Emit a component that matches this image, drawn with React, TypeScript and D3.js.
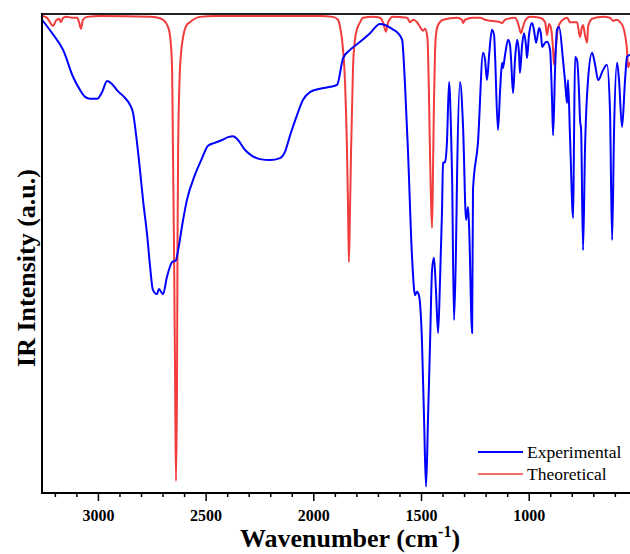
import { useEffect, useRef } from "react";
import * as d3 from "d3";

// experimental spectrum: wavenumber (cm-1), intensity (a.u.)
const expWavenumber = [
  3262, 3215, 3164, 3118, 3085, 3062, 3039, 3006, 2983, 2960, 2937, 2914, 2881, 2853, 2839, 2825, 2807, 2793, 2774, 2760,
  2747, 2728, 2719, 2709, 2700, 2682, 2658, 2640, 2630, 2607, 2589, 2552, 2519, 2491, 2459, 2426, 2398, 2375, 2352, 2319,
  2287, 2250, 2203, 2157, 2134, 2110, 2078, 2050, 2018, 1971, 1925, 1892, 1864, 1832, 1785, 1739, 1693, 1669, 1637, 1609,
  1590, 1577, 1563, 1544, 1530, 1521, 1512, 1498, 1488, 1479, 1470, 1460, 1451, 1442, 1433, 1423, 1414, 1405, 1400, 1391,
  1382, 1372, 1363, 1358, 1349, 1340, 1335, 1321, 1307, 1293, 1284, 1279, 1265, 1261, 1238, 1214, 1205, 1196, 1186, 1173,
  1163, 1159, 1145, 1135, 1126, 1122, 1112, 1098, 1089, 1084, 1075, 1066, 1056, 1047, 1043, 1033, 1024, 1015, 1010, 1001,
  987, 978, 968, 954, 945, 940, 926, 917, 903, 894, 889, 880, 871, 861, 843, 834, 824, 820, 810, 796,
  792, 787, 778, 769, 764, 759, 750, 741, 727, 708, 694, 680, 657, 639, 625, 615, 606, 592, 583, 569,
  555, 546, 532
];
const expIntensity = [
  98.8, 96.0, 92.5, 86.9, 84.1, 82.7, 82.3, 82.3, 83.7, 86.0, 85.4, 84.1, 82.7, 81.0, 79.3, 74.7, 67.4, 61.2, 53.9, 47.2,
  42.4, 41.5, 42.6, 42.0, 41.5, 45.1, 48.2, 48.6, 50.7, 57.0, 61.2, 66.4, 69.9, 72.5, 73.1, 73.7, 74.3, 74.5, 73.7, 71.6,
  70.4, 69.7, 69.5, 69.9, 71.2, 74.7, 78.9, 82.1, 83.7, 84.4, 84.8, 85.2, 90.8, 92.5, 94.2, 96.0, 97.9, 97.7, 96.9, 96.0,
  94.6, 85.6, 71.6, 49.3, 41.3, 42.0, 41.3, 31.9, 15.2, 1.3, 15.2, 31.9, 46.6, 49.1, 42.4, 33.4, 44.5, 58.5, 68.9, 69.1,
  73.1, 85.8, 75.8, 66.0, 36.1, 50.7, 66.0, 85.8, 76.4, 57.0, 59.7, 55.5, 33.4, 63.3, 73.1, 91.9, 90.4, 86.2, 91.5, 96.7,
  95.6, 91.9, 75.8, 84.1, 89.8, 88.7, 91.5, 94.6, 93.5, 90.4, 83.5, 90.4, 94.6, 91.5, 87.7, 93.5, 96.0, 93.5, 90.8, 95.6,
  98.1, 96.7, 94.0, 97.1, 95.6, 93.1, 94.0, 94.2, 92.5, 82.1, 74.7, 88.3, 96.7, 97.3, 90.4, 86.2, 81.4, 86.2, 73.7, 57.4,
  73.7, 91.0, 90.4, 84.1, 77.9, 75.8, 50.7, 71.6, 86.2, 91.9, 89.4, 86.2, 88.3, 89.4, 80.0, 52.8, 75.8, 89.8, 86.2, 76.4,
  86.2, 91.0, 91.5
];

// theoretical (DFT) spectrum
const theoWavenumber = [
  3257, 3239, 3225, 3211, 3197, 3183, 3174, 3164, 3146, 3118, 3099, 3090, 3081, 3072, 3053, 2993, 2760, 2723, 2700, 2677,
  2668, 2658, 2654, 2649, 2644, 2640, 2635, 2633, 2630, 2621, 2607, 2593, 2575, 2528, 2459, 1971, 1911, 1888, 1878, 1869,
  1855, 1846, 1841, 1837, 1832, 1827, 1818, 1809, 1799, 1785, 1772, 1725, 1693, 1679, 1665, 1655, 1632, 1567, 1553, 1539,
  1521, 1507, 1493, 1484, 1474, 1470, 1465, 1460, 1456, 1451, 1446, 1442, 1437, 1433, 1423, 1400, 1335, 1312, 1307, 1298,
  1261, 1228, 1205, 1135, 1126, 1112, 1066, 1052, 1038, 1029, 1019, 996, 950, 926, 917, 908, 899, 889, 885, 875,
  866, 848, 824, 810, 778, 764, 755, 750, 741, 731, 727, 708, 657, 625, 611, 592, 578, 564, 546, 541,
  532
];
const theoIntensity = [
  99.6, 99.2, 98.3, 97.5, 98.6, 99.0, 98.3, 99.2, 99.4, 99.2, 99.2, 98.3, 96.9, 98.8, 99.4, 99.6, 99.4, 99.2, 98.8, 97.3,
  95.6, 88.9, 71.6, 50.7, 23.6, 2.5, 23.6, 50.7, 71.6, 88.9, 95.2, 97.5, 98.3, 99.4, 99.6, 99.6, 99.4, 98.8, 97.3, 94.6,
  85.6, 71.6, 59.1, 48.2, 59.1, 71.6, 88.9, 94.6, 96.9, 98.3, 99.2, 99.4, 99.2, 98.3, 96.3, 98.3, 99.4, 99.2, 98.3, 98.8,
  98.3, 97.3, 96.5, 96.9, 95.6, 92.5, 82.1, 69.5, 61.2, 55.3, 69.5, 82.1, 92.5, 95.6, 97.7, 98.8, 99.2, 98.8, 98.1, 98.8,
  99.2, 99.2, 98.8, 98.3, 98.1, 98.8, 99.2, 98.1, 96.0, 97.3, 98.6, 99.4, 99.2, 98.3, 95.6, 97.9, 97.1, 92.5, 89.4, 93.5,
  97.3, 98.6, 99.2, 98.3, 98.3, 95.2, 97.3, 97.7, 95.6, 94.0, 97.3, 99.0, 99.4, 99.2, 98.6, 98.8, 98.3, 97.3, 92.5, 88.9,
  90.0
];

const majorTicks = [3000, 2500, 2000, 1500, 1000];
const minorTicks = d3.range(600, 3300, 100);
const legendLabels = ["Experimental", "Theoretical"];
const colors = ["#0000ff", "#f03c3c"];

const App = () => {
  const ref = useRef(null);

  useEffect(() => {
    const width = 630, height = 554;
    const left = 42, right = 630, top = 14, bottom = 493;
    const font = "'Liberation Serif', 'Times New Roman', serif";

    const svg = d3.select(ref.current)
      .html("")
      .attr("width", width)
      .attr("height", height);

    svg.append("rect").attr("width", width).attr("height", height).attr("fill", "white");

    const x = d3.scaleLinear().domain([3262, 532]).range([left, right]);
    const y = d3.scaleLinear().domain([0, 100]).range([bottom, top]);

    const line = d3.line()
      .x((d) => x(d[0]))
      .y((d) => y(d[1]))
      .curve(d3.curveMonotoneX);

    const expData = expWavenumber.map((w, i) => [w, expIntensity[i]]);
    const theoData = theoWavenumber.map((w, i) => [w, theoIntensity[i]]);

    svg.append("defs").append("clipPath").attr("id", "plot")
      .append("rect").attr("x", left).attr("y", top).attr("width", right - left).attr("height", bottom - top);

    const g = svg.append("g").attr("clip-path", "url(#plot)");

    g.append("path")
      .attr("d", line(theoData))
      .attr("fill", "none")
      .attr("stroke", colors[1])
      .attr("stroke-width", 2)
      .attr("stroke-linejoin", "round");

    g.append("path")
      .attr("d", line(expData))
      .attr("fill", "none")
      .attr("stroke", colors[0])
      .attr("stroke-width", 2)
      .attr("stroke-linejoin", "round");

    // frame
    svg.append("line").attr("x1", left).attr("x2", right).attr("y1", top).attr("y2", top)
      .attr("stroke", "#222").attr("stroke-width", 2);
    svg.append("line").attr("x1", left).attr("x2", left).attr("y1", top - 1).attr("y2", bottom + 1)
      .attr("stroke", "black").attr("stroke-width", 2);

    const xAxis = svg.append("g").attr("transform", `translate(0, ${bottom})`);
    xAxis.append("line").attr("x1", left - 1).attr("x2", right).attr("stroke", "black").attr("stroke-width", 2);

    xAxis.selectAll(".minor")
      .data(minorTicks.filter((t) => !majorTicks.includes(t)))
      .enter()
      .append("line")
      .attr("x1", (d) => x(d)).attr("x2", (d) => x(d))
      .attr("y1", 0).attr("y2", 4)
      .attr("stroke", "black").attr("stroke-width", 1.5);

    xAxis.selectAll(".major")
      .data(majorTicks)
      .enter()
      .append("line")
      .attr("x1", (d) => x(d)).attr("x2", (d) => x(d))
      .attr("y1", 0).attr("y2", 8)
      .attr("stroke", "black").attr("stroke-width", 1.5);

    xAxis.selectAll("text")
      .data(majorTicks)
      .enter()
      .append("text")
      .attr("x", (d) => x(d))
      .attr("y", 28)
      .attr("text-anchor", "middle")
      .style("font-family", font)
      .style("font-size", "16px")
      .style("font-weight", "bold")
      .text((d) => d);

    const title = svg.append("text")
      .attr("x", 350)
      .attr("y", 547)
      .attr("text-anchor", "middle")
      .style("font-family", font)
      .style("font-size", "26px")
      .style("font-weight", "bold");
    title.append("tspan").text("Wavenumber (cm");
    title.append("tspan").attr("dy", -10).style("font-size", "16px").text("-1");
    title.append("tspan").attr("dy", 10).text(")");

    svg.append("text")
      .attr("transform", "translate(35, 268) rotate(-90)")
      .attr("text-anchor", "middle")
      .style("font-family", font)
      .style("font-size", "26px")
      .style("font-weight", "bold")
      .text("IR Intensity (a.u.)");

    // legend
    const legend = svg.append("g").attr("transform", "translate(478, 452)");
    legendLabels.forEach((label, i) => {
      legend.append("line")
        .attr("x1", 0).attr("x2", 45)
        .attr("y1", i * 22).attr("y2", i * 22)
        .attr("stroke", colors[i])
        .attr("stroke-width", i === 0 ? 2 : 1.5);
      legend.append("text")
        .attr("x", 49)
        .attr("y", i * 22 + 6)
        .style("font-family", font)
        .style("font-size", "17.5px")
        .text(label);
    });
  }, []);

  return <svg ref={ref} style={{ position: "absolute", left: 0, top: 0 }}></svg>;
};

export default App;
